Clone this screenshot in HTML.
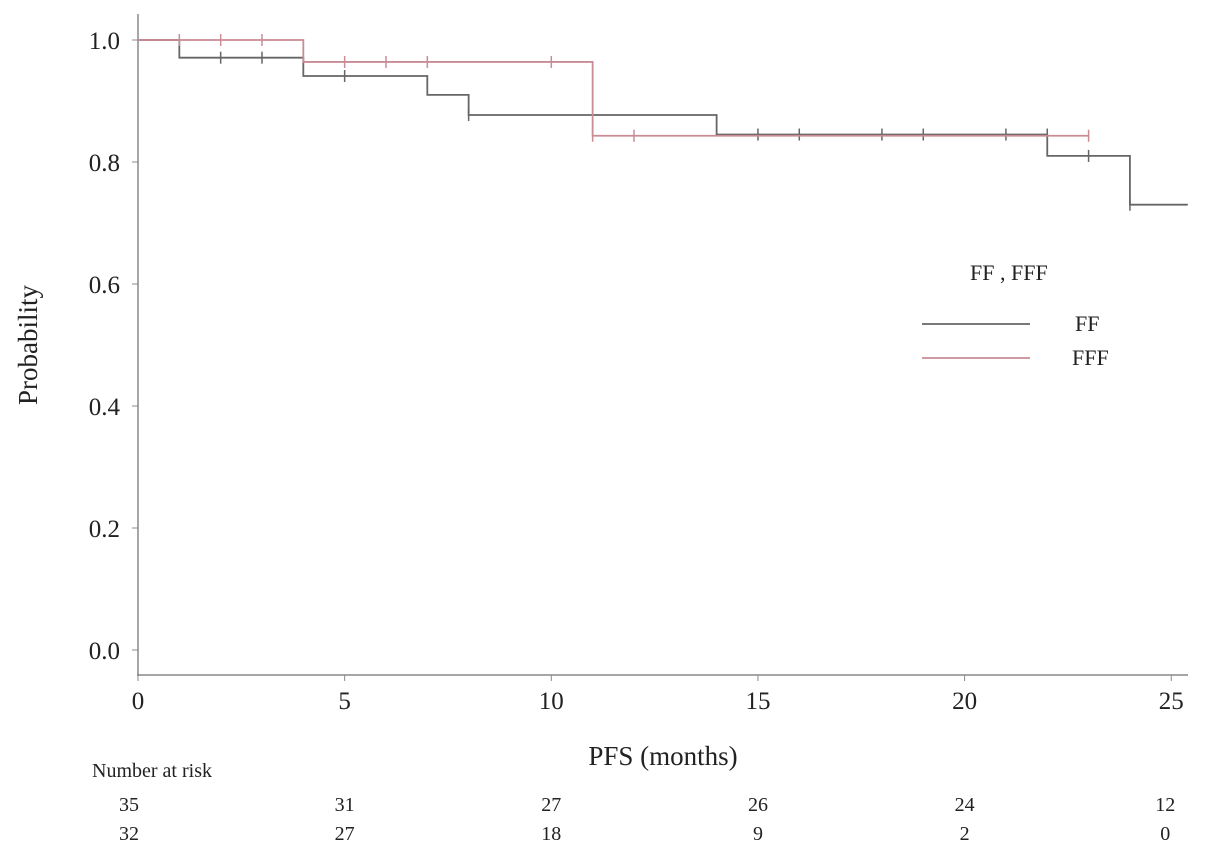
<!DOCTYPE html>
<html><head><meta charset="utf-8"><style>
body{margin:0;background:#fff;}
svg text{font-family:"Liberation Serif",serif;fill:#222;}
</style></head><body>
<svg id="chart" width="1205" height="853" xmlns="http://www.w3.org/2000/svg"></svg>
<script>
const xTicks=[0,5,10,15,20,25];
const yTicks=[0.0,0.2,0.4,0.6,0.8,1.0];
const ffTimes=[0,1,4,7,8,14,22,24,25.4];
const ffSurv=[1,0.971,0.941,0.91,0.877,0.845,0.81,0.73,0.73];
const ffCensT=[2,3,5,8,15,16,18,19,21,22,23,24];
const ffCensS=[0.971,0.971,0.941,0.877,0.845,0.845,0.845,0.845,0.845,0.845,0.81,0.73];
const fffTimes=[0,4,11,23];
const fffSurv=[1,0.964,0.843,0.843];
const fffCensT=[1,2,3,5,6,7,10,11,12,23];
const fffCensS=[1,1,1,0.964,0.964,0.964,0.964,0.843,0.843,0.843];
const riskTimes=[0,5,10,15,20,25];
const riskFF=[35,31,27,26,24,12];
const riskFFF=[32,27,18,9,2,0];

const NS='http://www.w3.org/2000/svg';
const svg=document.getElementById('chart');
const X=t=>138+t*41.33;
const Y=p=>650-p*610;
function mk(tag,attrs,parent){const e=document.createElementNS(NS,tag);for(const k in attrs)e.setAttribute(k,attrs[k]);(parent||svg).appendChild(e);return e;}

const axes=mk('g',{});


mk('line',{x1:138,y1:14,x2:138,y2:676,stroke:'#888','stroke-width':1.5},axes);
mk('line',{x1:137,y1:675,x2:1188,y2:675,stroke:'#888','stroke-width':1.5},axes);
xTicks.forEach(t=>{
  mk('line',{x1:X(t),y1:675,x2:X(t),y2:681,stroke:'#888'},axes);
  const tx=mk('text',{x:X(t),y:709,'font-size':25,'text-anchor':'middle'},axes);
  tx.textContent=t;
  
  
});
yTicks.forEach(p=>{
  mk('line',{x1:132,y1:Y(p),x2:138,y2:Y(p),stroke:'#888'},axes);
  const tx=mk('text',{x:120,y:Y(p)+9,'font-size':25,'text-anchor':'end'},axes);
  tx.textContent=p.toFixed(1);
  
  
});
const yt=mk('text',{x:0,y:0,'font-size':27,'text-anchor':'middle',transform:'translate(37,345) rotate(-90)'});
yt.textContent='Probability';


const xt=mk('text',{x:663,y:765,'font-size':27,'text-anchor':'middle'});
xt.textContent='PFS (months)';



function curve(times,surv,ct,cs,color,name){
  const g=mk('g',{});
  
  
  let d='M'+X(times[0])+','+Y(surv[0]);
  for(let i=1;i<times.length;i++){d+=' H'+X(times[i])+' V'+Y(surv[i]);}
  mk('path',{d:d,fill:'none',stroke:color,'stroke-width':1.8},g);
  ct.forEach((t,i)=>{
    const c=mk('line',{x1:X(t),y1:Y(cs[i])-6,x2:X(t),y2:Y(cs[i])+6,stroke:color,'stroke-width':1.5},g);
    
    
  });
}
curve(ffTimes,ffSurv,ffCensT,ffCensS,'#666','ff-curve');
curve(fffTimes,fffSurv,fffCensT,fffCensS,'#c98b94','fff-curve');

const lg=mk('g',{});


const lt=mk('text',{x:970,y:280,'font-size':22},lg);lt.textContent='FF , FFF';
mk('line',{x1:922,y1:324,x2:1030,y2:324,stroke:'#666','stroke-width':1.8},lg);
const l1=mk('text',{x:1075,y:331,'font-size':22},lg);l1.textContent='FF';
mk('line',{x1:922,y1:358,x2:1030,y2:358,stroke:'#c98b94','stroke-width':1.8},lg);
const l2=mk('text',{x:1072,y:365,'font-size':22},lg);l2.textContent='FFF';

const rg=mk('g',{});


const rt=mk('text',{x:92,y:777,'font-size':20},rg);rt.textContent='Number at risk';
riskTimes.forEach((t,i)=>{
  const px=i==0?129:(i==5?X(t)-6:X(t));
  const a=mk('text',{x:px,y:811,'font-size':20,'text-anchor':'middle'},rg);a.textContent=riskFF[i];
  const b=mk('text',{x:px,y:840,'font-size':20,'text-anchor':'middle'},rg);b.textContent=riskFFF[i];
});
</script>
</body></html>
